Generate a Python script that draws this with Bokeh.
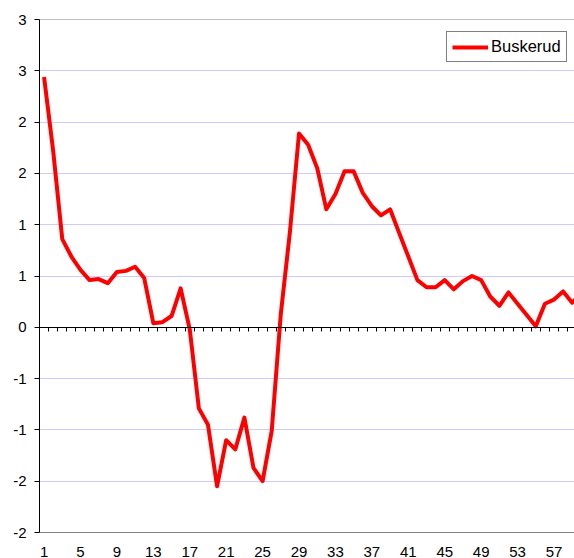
from bokeh.plotting import figure
from bokeh.models import Range1d, LinearAxis, FixedTicker, Span
from bokeh.embed import file_html
from bokeh.resources import INLINE

# ---- data ----
categories = list(range(1, 61))
buskerud = [2.44, 1.72, 0.86, 0.69, 0.56, 0.46, 0.47, 0.43, 0.54, 0.55,
            0.59, 0.48, 0.04, 0.05, 0.11, 0.38, -0.02, -0.79, -0.95, -1.55,
            -1.10, -1.19, -0.88, -1.37, -1.50, -1.01, 0.13, 0.93, 1.89, 1.78,
            1.55, 1.15, 1.30, 1.52, 1.52, 1.31, 1.18, 1.09, 1.15, 0.92,
            0.69, 0.46, 0.39, 0.39, 0.46, 0.37, 0.45, 0.50, 0.46, 0.30,
            0.21, 0.34, 0.23, 0.12, 0.01, 0.23, 0.27, 0.35, 0.24, 0.33]
x_tick_pos = [1, 5, 9, 13, 17, 21, 25, 29, 33, 37, 41, 45, 49, 53, 57]
x_tick_labels = ["1", "5", "9", "13", "17", "21", "25", "29", "33", "37",
                 "41", "45", "49", "53", "57"]
y_ticks = [-2.0, -1.5, -1.0, -0.5, 0.0, 0.5, 1.0, 1.5, 2.0, 2.5, 3.0]
y_tick_labels = ["-2", "-2", "-1", "-1", "0", "1", "1", "2", "2", "3", "3"]
series_name = "Buskerud"

FONT = "Liberation Sans"

y_min, y_max = y_ticks[0], y_ticks[-1]
px_per_unit = 513 / (y_max - y_min)          # plot area height / value span
label_room = 26 / px_per_unit                # room under the plot for labels

p = figure(width=574, height=558, title=None,
           x_range=Range1d(0.5, 59.25),
           y_range=Range1d(y_min - label_room, y_max),
           output_backend="svg", toolbar_location=None,
           min_border_left=39, min_border_right=0,
           min_border_top=19, min_border_bottom=0)
p.outline_line_color = None
p.background_fill_color = "white"
p.border_fill_color = "white"

# grid
p.xgrid.visible = False
p.ygrid.ticker = FixedTicker(ticks=y_ticks)
p.ygrid.grid_line_color = "#ccccff"
p.ygrid.grid_line_width = 1

# top border
p.add_layout(Span(location=y_max, dimension="width",
                  line_color="#808080", line_width=1))

# y axis
ya = p.yaxis[0]
ya.ticker = FixedTicker(ticks=y_ticks)
ya.bounds = (y_min, y_max)
ya.major_label_overrides = {t: l for t, l in zip(y_ticks, y_tick_labels)}
ya.major_tick_out = 5
ya.major_tick_in = 0
ya.minor_tick_out = 0
ya.minor_tick_in = 0
ya.axis_line_color = "black"
ya.major_tick_line_color = "black"
ya.major_label_standoff = 8
ya.major_label_text_font = FONT
ya.major_label_text_font_size = "15px"
ya.major_label_text_color = "black"

# bottom axis (labels), placed at the lowest value
xa = p.xaxis[0]
xa.fixed_location = y_min
xa.ticker = FixedTicker(ticks=x_tick_pos)
xa.major_label_overrides = {t: l for t, l in zip(x_tick_pos, x_tick_labels)}
xa.major_tick_out = 0
xa.major_tick_in = 0
xa.minor_tick_out = 0
xa.minor_tick_in = 0
xa.axis_line_color = "#808080"
xa.major_label_standoff = 14
xa.major_label_text_font = FONT
xa.major_label_text_font_size = "15px"
xa.major_label_text_color = "black"

# category axis at zero with tick marks between categories
boundaries = [categories[0] - 0.5] + [c + 0.5 for c in categories]
za = LinearAxis(fixed_location=0, ticker=FixedTicker(ticks=boundaries))
za.major_tick_out = 4
za.major_tick_in = 0
za.minor_tick_out = 0
za.minor_tick_in = 0
za.axis_line_color = "black"
za.major_tick_line_color = "black"
za.major_label_text_color = None
p.add_layout(za, "below")

# series
p.line(x=categories, y=buskerud, line_color="#ff0000", line_width=4,
       line_join="round", legend_label=series_name)

lg = p.legend[0]
lg.location = (407, 496)
lg.border_line_color = "black"
lg.border_line_width = 1
lg.background_fill_color = "white"
lg.background_fill_alpha = 1
lg.padding = 5
lg.spacing = 0
lg.glyph_width = 36
lg.glyph_height = 18
lg.label_height = 18
lg.label_standoff = 3
lg.label_text_font = FONT
lg.label_text_font_size = "16.5px"
lg.label_text_color = "black"

open("out.html", "w").write(file_html(p, INLINE))
